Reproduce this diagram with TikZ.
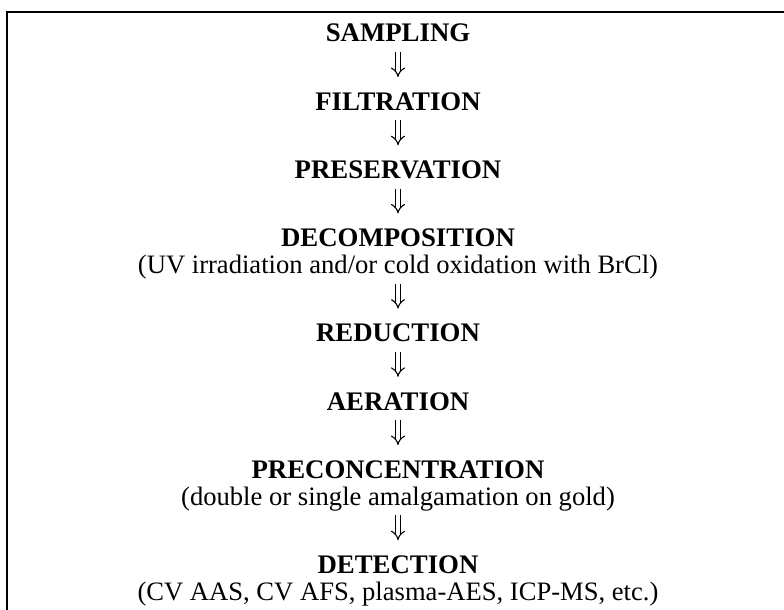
\documentclass[tikz,border=0pt]{standalone}
\usepackage{fontspec}
\setmainfont{Liberation Serif}
\usetikzlibrary{arrows.meta}
\begin{document}
\begin{tikzpicture}[x=1pt,y=-1pt,
  stage/.style={font=\fontsize{26.8}{30}\selectfont\bfseries, anchor=base, inner sep=0pt, text height=19pt, text depth=7pt},
  note/.style={font=\fontsize{26.6}{30}\selectfont, anchor=base, inner sep=0pt, text height=19pt, text depth=7pt},
  flow/.style={draw=black, line width=1.1pt, double=white, double distance=3.8pt, -{Implies[length=7pt,width=17pt]}, shorten <=3pt, shorten >=14pt}
]
\useasboundingbox (0,0) rectangle (784,610);
\clip (0,0) rectangle (784,610);
\draw[line width=1.8pt] (7,12) rectangle (789,625);
\node[stage] (s1) at (398,42) {SAMPLING};
\node[stage] (s2) at (398,110.2) {FILTRATION};
\node[stage] (s3) at (398,178.4) {PRESERVATION};
\node[stage] (s4) at (398,246.6) {DECOMPOSITION};
\node[note]  (n4) at (398,273.6) {(UV irradiation and/or cold oxidation with BrCl)};
\node[stage] (s5) at (398,341.8) {REDUCTION};
\node[stage] (s6) at (398,410) {AERATION};
\node[stage] (s7) at (398,478.2) {PRECONCENTRATION};
\node[note]  (n7) at (398,505.2) {(double or single amalgamation on gold)};
\node[stage] (s8) at (398,573.4) {DETECTION};
\node[note]  (n8) at (398,600.4) {(CV AAS, CV AFS, plasma-AES, ICP-MS, etc.)};
\draw[flow] (s1.south) -- (s2.north);
\draw[flow] (s2.south) -- (s3.north);
\draw[flow] (s3.south) -- (s4.north);
\draw[flow] (n4.south) -- (s5.north);
\draw[flow] (s5.south) -- (s6.north);
\draw[flow] (s6.south) -- (s7.north);
\draw[flow] (n7.south) -- (s8.north);
\end{tikzpicture}
\end{document}
